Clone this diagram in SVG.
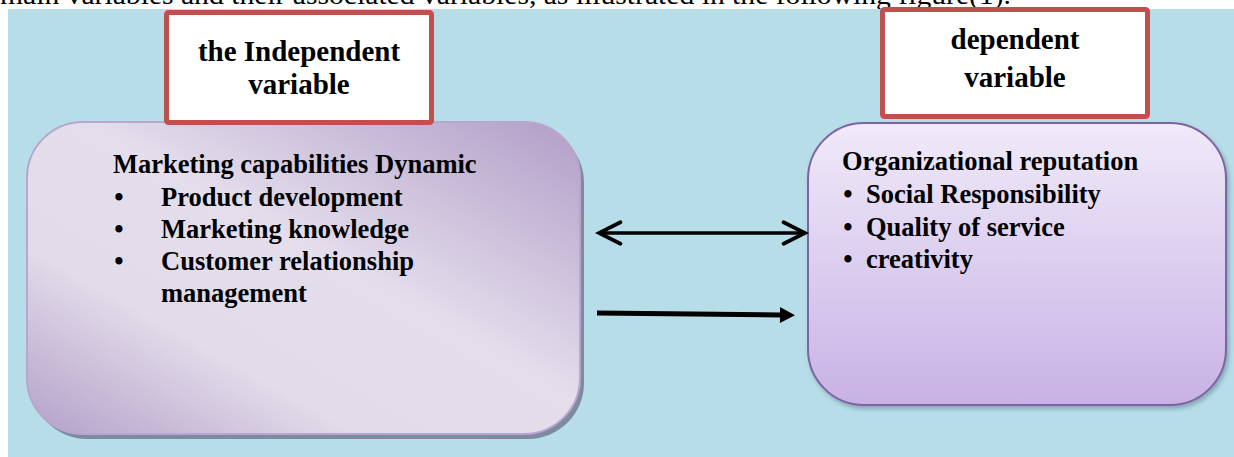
<svg xmlns="http://www.w3.org/2000/svg" width="1234" height="457" viewBox="0 0 1234 457">
  <style>
    .doc { font-family: "Liberation Serif", "Times New Roman", serif; font-size: 26.5px; fill: #000; }
    .title { font-family: "Liberation Serif", "Times New Roman", serif; font-size: 29px; font-weight: bold; fill: #000; text-anchor: middle; }
    .body { font-family: "Liberation Serif", "Times New Roman", serif; font-size: 26.5px; font-weight: bold; fill: #000; }
    .bullet { text-anchor: middle; }
    .label-box { fill: #ffffff; stroke: #c0504d; stroke-width: 5; }
    .conn { stroke: #000; fill: none; }
  </style>
  <defs>
    <linearGradient id="gLeft" x1="1" y1="0" x2="0" y2="1">
      <stop offset="0" stop-color="#b19dc7"/>
      <stop offset="0.45" stop-color="#e4deec"/>
      <stop offset="0.7" stop-color="#e2dbe9"/>
      <stop offset="1" stop-color="#b3a0c8"/>
    </linearGradient>
    <linearGradient id="gRight" x1="0" y1="0" x2="0" y2="1">
      <stop offset="0" stop-color="#f0eaf9"/>
      <stop offset="1" stop-color="#c8b2e5"/>
    </linearGradient>
    <filter id="softShadow" x="-5%" y="-5%" width="115%" height="115%">
      <feGaussianBlur in="SourceAlpha" stdDeviation="2"/>
      <feOffset dx="2" dy="3" result="b"/>
      <feFlood flood-color="#4a6a78" flood-opacity="0.45"/>
      <feComposite in2="b" operator="in"/>
      <feMerge><feMergeNode/><feMergeNode in="SourceGraphic"/></feMerge>
    </filter>
    <marker id="chev" markerUnits="userSpaceOnUse" markerWidth="30" markerHeight="30" viewBox="-24 -14 28 28" refX="0" refY="0" orient="auto-start-reverse">
      <path d="M -20 -10 L 0 0 L -20 10" fill="none" stroke="#000" stroke-width="3.5" stroke-linecap="round" stroke-linejoin="miter"/>
    </marker>
    <marker id="tri" markerUnits="userSpaceOnUse" markerWidth="20" markerHeight="20" viewBox="0 -10 16 20" refX="0" refY="0" orient="auto">
      <path d="M 0 -8 L 15 0 L 0 8 Z" fill="#000"/>
    </marker>
  </defs>

  <!-- page text (cut off at top) -->
  <text class="doc" x="0" y="3.5" textLength="1011" lengthAdjust="spacingAndGlyphs">main variables and their associated variables, as illustrated in the following figure(1).</text>

  <!-- background -->
  <rect x="8" y="9" width="1226" height="448" fill="#b6dde8"/>

  <!-- left node -->
  <g id="node-independent">
    <rect x="31" y="127" width="553" height="312" rx="56" fill="#7d8ba0"/>
    <rect x="27" y="122" width="553" height="312" rx="56" fill="url(#gLeft)" stroke="#b8a6cf" stroke-width="2"/>
    <text class="body" x="113" y="173">Marketing capabilities Dynamic</text>
    <text class="body bullet" x="119" y="206">•</text>
    <text class="body" x="161" y="206">Product development</text>
    <text class="body bullet" x="119" y="238">•</text>
    <text class="body" x="161" y="238">Marketing knowledge</text>
    <text class="body bullet" x="119" y="270">•</text>
    <text class="body" x="161" y="270">Customer relationship</text>
    <text class="body" x="161" y="302">management</text>
  </g>

  <!-- right node -->
  <g id="node-dependent">
    <rect x="808" y="123" width="418" height="282" rx="56" fill="url(#gRight)" stroke="#8064a2" stroke-width="2" filter="url(#softShadow)"/>
    <text class="body" x="842" y="170">Organizational reputation</text>
    <text class="body bullet" x="848" y="203">•</text>
    <text class="body" x="866" y="203">Social Responsibility</text>
    <text class="body bullet" x="848" y="236">•</text>
    <text class="body" x="866" y="236">Quality of service</text>
    <text class="body bullet" x="848" y="268">•</text>
    <text class="body" x="866" y="268">creativity</text>
  </g>

  <!-- label boxes -->
  <g id="label-independent">
    <rect class="label-box" x="166.5" y="12.5" width="265" height="110" rx="2"/>
    <text class="title" x="299" y="61">the Independent</text>
    <text class="title" x="299" y="94">variable</text>
  </g>
  <g id="label-dependent">
    <rect class="label-box" x="882.5" y="9.5" width="265" height="107" rx="2"/>
    <text class="title" x="1015" y="49">dependent</text>
    <text class="title" x="1015" y="87">variable</text>
  </g>

  <!-- connectors -->
  <g id="connectors">
    <line class="conn" x1="599" y1="233" x2="805" y2="233" stroke-width="3.5" marker-start="url(#chev)" marker-end="url(#chev)"/>
    <line class="conn" x1="597" y1="313" x2="780" y2="315" stroke-width="5" marker-end="url(#tri)"/>
  </g>
</svg>
